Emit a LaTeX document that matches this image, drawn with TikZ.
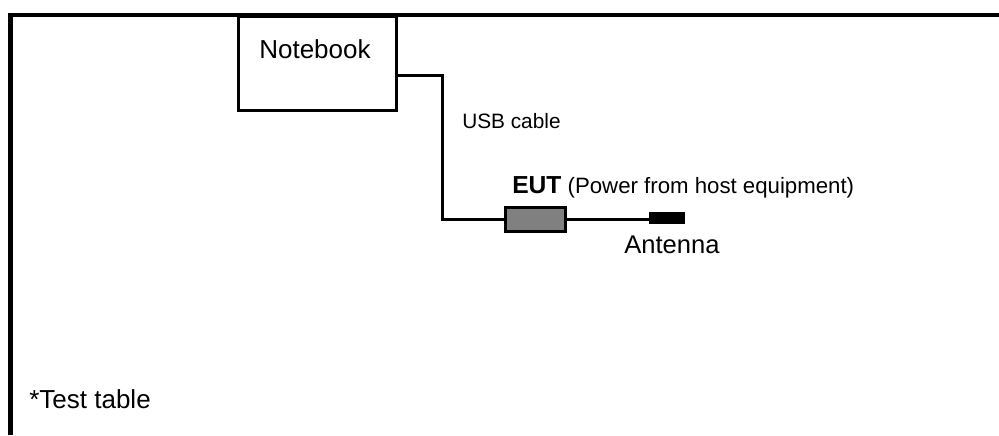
\documentclass[tikz,border=0pt]{standalone}
\usepackage{fontspec}
\setmainfont{Liberation Sans}
\usetikzlibrary{calc, positioning}

\begin{document}
\begin{tikzpicture}[x=0.025cm, y=-0.025cm,
  box/.style={draw, line width=2.3pt, inner sep=0pt},
  lbl/.style={inner sep=0pt, anchor=base west},
  cable/.style={line width=2.3pt}]
\useasboundingbox (0,0) rectangle (999,435);
% test table
\draw[line width=3pt] (10.5,435) -- (10.5,15) -- (999,15);
\node[lbl, font=\fontsize{18.5}{20}\selectfont] (tbl) at (29,408) {*Test table};
% notebook
\node[box, fill=white, minimum width=3.95cm, minimum height=2.34cm, anchor=north west] (nb) at (237,15) {};
\node[lbl, font=\fontsize{18.5}{20}\selectfont] (nbtxt) at (259,58) {Notebook};
% EUT and antenna
\node[box, fill=gray, minimum width=1.5cm, minimum height=0.6cm] (eut) at (535.5,219.5) {};
\node[fill=black, inner sep=0pt, minimum width=0.9cm, minimum height=0.3cm] (ant) at (667,218) {};
\coordinate (nbport) at (395,75.5);
\coordinate (bend) at (442.5,75.5);
\draw[cable] (nbport) -- (bend) |- (eut.west);
\draw[cable] (eut.east) -- (eut.east -| ant.west);
% labels
\node[lbl, font=\fontsize{14.8}{16}\selectfont] (usb) at (462,128) {USB cable};
\node[lbl, font=\fontsize{15.8}{18}\selectfont] (eutlbl) at (512,193) {\textbf{\fontsize{17.5}{18}\selectfont EUT} (Power from host equipment)};
\node[lbl, font=\fontsize{18.2}{20}\selectfont] (antlbl) at (624,253) {Antenna};
\end{tikzpicture}
\end{document}
